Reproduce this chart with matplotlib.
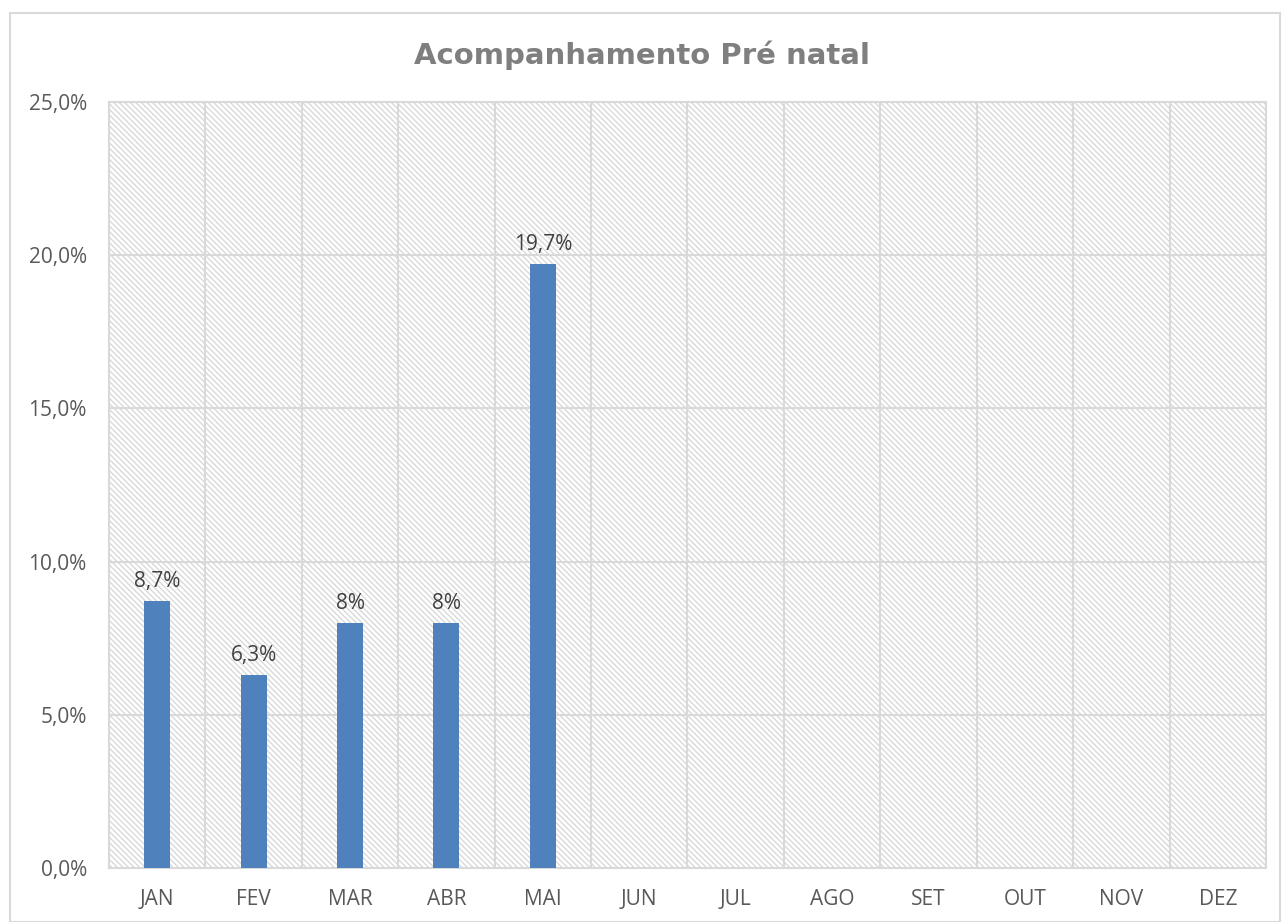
import matplotlib
matplotlib.use("Agg")
import matplotlib.pyplot as plt
from matplotlib.patches import Rectangle
from matplotlib.ticker import FuncFormatter, MultipleLocator

months = ["JAN", "FEV", "MAR", "ABR", "MAI", "JUN", "JUL", "AGO", "SET", "OUT", "NOV", "DEZ"]
values = [8.7, 6.3, 8.0, 8.0, 19.7]
labels = ["8,7%", "6,3%", "8%", "8%", "19,7%"]
title = "Acompanhamento Pré natal"

plt.rcParams['font.family'] = ['Open Sans', 'DejaVu Sans']
plt.rcParams['hatch.linewidth'] = 0.9

fig = plt.figure(figsize=(12.83, 9.22), dpi=100)
ax = fig.add_axes([109/1283, 1-868/922, (1266-109)/1283, (868-102)/922])

# outer chart border
fig.add_artist(Rectangle((10/1283, 0), (1280-10)/1283, 1-13/922, transform=fig.transFigure,
                         fill=False, edgecolor='#d9d9d9', lw=1.5))

# hatched plot area
ax.add_patch(Rectangle((0, 0), 1, 1, transform=ax.transAxes, facecolor='white',
                       edgecolor='#d6d6d6', hatch='\\\\\\\\\\\\', lw=0, zorder=0))

x = list(range(len(months)))
ax.bar(x[:len(values)], values, width=0.27, color='#4f81bd', zorder=3)
for xi, v, lab in zip(x, values, labels):
    ax.text(xi, v + 0.3, lab, ha='center', va='bottom', fontsize=15, color='#404040', zorder=4)

ax.set_xlim(-0.5, len(months) - 0.5)
ax.set_ylim(0, 25)
ax.yaxis.set_major_locator(MultipleLocator(5))
ax.yaxis.set_major_formatter(FuncFormatter(lambda v, p: f"{v:.1f}%".replace('.', ',')))
ax.set_xticks(x)
ax.set_xticklabels(months)
ax.tick_params(axis='both', length=0, labelsize=15, labelcolor='#595959')
ax.tick_params(axis='y', pad=16)
ax.tick_params(axis='x', pad=15)

for yv in range(5, 26, 5):
    ax.axhline(yv, color='#d9d9d9', lw=1.5, zorder=1)
for b in range(len(months) + 1):
    ax.axvline(b - 0.5, color='#d9d9d9', lw=1.5, zorder=1)
for s in ax.spines.values():
    s.set_color('#d9d9d9')
    s.set_linewidth(1.5)

fig.text(0.5, 1 - 55/922, title, ha='center', va='center', fontsize=21, fontweight='bold',
         color='#7f7f7f', family='DejaVu Sans')

fig.savefig("out.png", dpi=100)
